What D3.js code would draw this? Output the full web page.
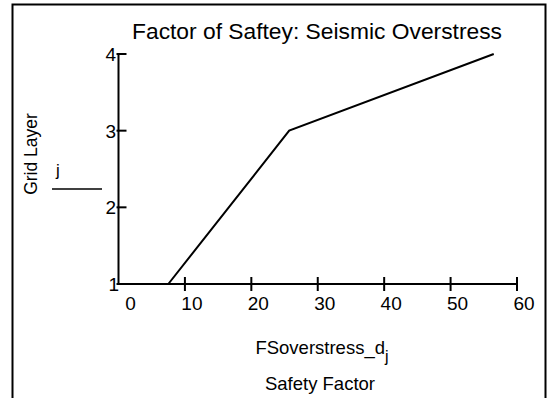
<!DOCTYPE html>
<html>
<head>
<meta charset="utf-8">
<script src="https://cdn.jsdelivr.net/npm/d3@7"></script>
<style>
  body { margin: 0; background: #fff; }
  text { font-family: "Liberation Sans", Arial, sans-serif; fill: #000; }
</style>
</head>
<body>
<div class="home"></div>
<script>
// data
var safetyFactor = [7.5, 25.7, 56.5];
var gridLayer = [1, 3, 4];
var xTicks = [0, 10, 20, 30, 40, 50, 60];
var yTicks = [1, 2, 3, 4];

const width = 548;
const height = 398;

const svg = d3.select(".home").append("svg")
  .attr("width", width)
  .attr("height", height);

// outer frame
svg.append("path")
  .attr("d", "M12.5,398 V4.5 H545.5 V398")
  .style("fill", "none")
  .style("stroke", "#000")
  .style("stroke-width", 2);

// scales
const x = d3.scaleLinear().domain([0, 60]).range([118.5, 517]);
const y = d3.scaleLinear().domain([1, 4]).range([284, 54]);

// axis lines
svg.append("line")
  .attr("x1", x(0)).attr("x2", x(60))
  .attr("y1", y(1)).attr("y2", y(1))
  .style("stroke", "#000").style("stroke-width", 2);
svg.append("line")
  .attr("x1", x(0)).attr("x2", x(0))
  .attr("y1", y(1)).attr("y2", y(4))
  .style("stroke", "#000").style("stroke-width", 2);

// x ticks (cross the axis)
svg.selectAll(".xtick")
  .data(xTicks.slice(1))
  .enter().append("line")
  .attr("x1", d => x(d)).attr("x2", d => x(d))
  .attr("y1", y(1) - 7).attr("y2", y(1) + 7)
  .style("stroke", "#000").style("stroke-width", 2);

svg.selectAll(".xlab")
  .data(xTicks)
  .enter().append("text")
  .attr("x", d => x(d) + (d === 0 ? 12 : 7))
  .attr("y", 310)
  .attr("text-anchor", "middle")
  .style("font-size", "19px")
  .text(d => d);

// y ticks (point inward)
svg.selectAll(".ytick")
  .data(yTicks)
  .enter().append("line")
  .attr("x1", d => x(0) - 2).attr("x2", x(0) + 8)
  .attr("y1", d => y(d)).attr("y2", d => y(d))
  .style("stroke", "#000").style("stroke-width", 2);

svg.selectAll(".ylab")
  .data(yTicks)
  .enter().append("text")
  .attr("x", d => d === 1 ? 119 : 116)
  .attr("y", d => y(d) + 7)
  .attr("text-anchor", "end")
  .style("font-size", "19px")
  .text(d => d);

// the line
const line = d3.line()
  .x(d => x(d[0]))
  .y(d => y(d[1]));
svg.append("path")
  .datum(d3.zip(safetyFactor, gridLayer))
  .attr("d", line)
  .style("fill", "none")
  .style("stroke", "#000")
  .style("stroke-width", 2);

// title
svg.append("text")
  .attr("x", 317)
  .attr("y", 39)
  .attr("text-anchor", "middle")
  .style("font-size", "22.8px")
  .text("Factor of Saftey: Seismic Overstress");

// x label
var xl = svg.append("text")
  .attr("x", 322)
  .attr("y", 354)
  .attr("text-anchor", "middle")
  .style("font-size", "18.5px");
xl.append("tspan").text("FSoverstress_d");
xl.append("tspan").attr("dy", 8).style("font-size", "16px").text("j");

svg.append("text")
  .attr("x", 320)
  .attr("y", 390)
  .attr("text-anchor", "middle")
  .style("font-size", "18.5px")
  .text("Safety Factor");

// y label
svg.append("text")
  .attr("transform", "translate(37,154) rotate(-90)")
  .attr("text-anchor", "middle")
  .style("font-size", "17.5px")
  .text("Grid Layer");

svg.append("text")
  .attr("x", 58)
  .attr("y", 176)
  .attr("text-anchor", "middle")
  .style("font-size", "17px")
  .text("j");
svg.append("line")
  .attr("x1", 52).attr("x2", 102)
  .attr("y1", 189).attr("y2", 189)
  .style("stroke", "#000").style("stroke-width", 1.5);
</script>
</body>
</html>
